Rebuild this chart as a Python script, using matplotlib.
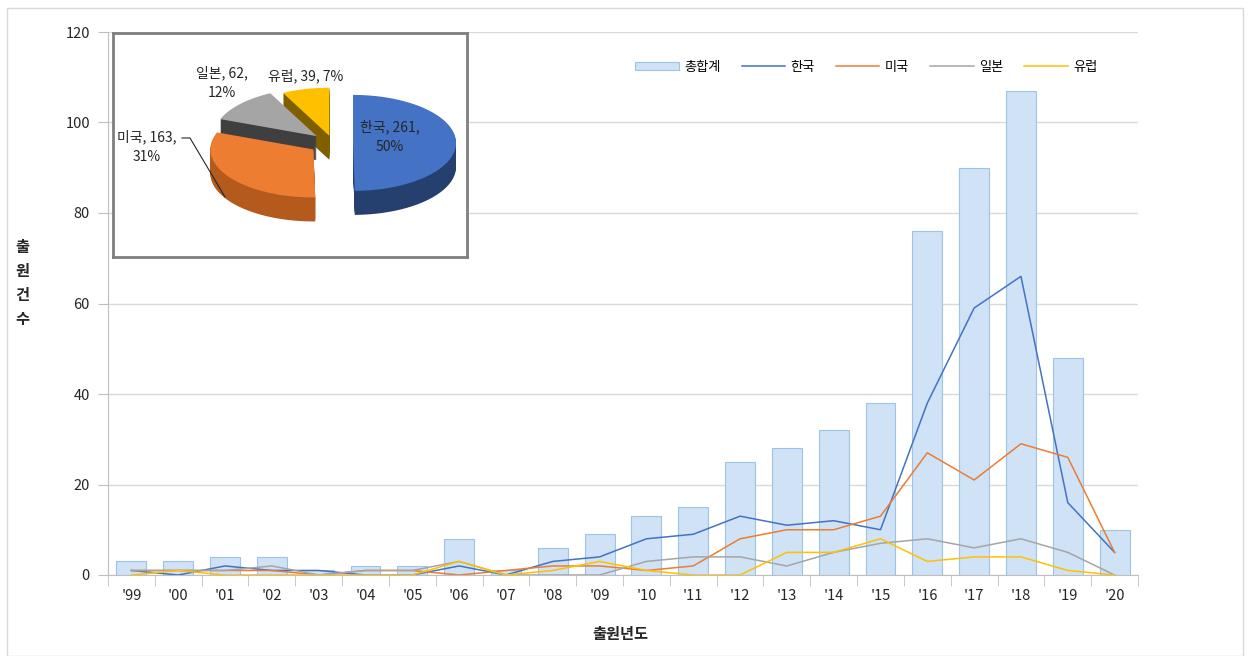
import numpy as np
import matplotlib
matplotlib.use("Agg")
import matplotlib.pyplot as plt
from matplotlib.patches import Polygon, Rectangle
from matplotlib.lines import Line2D

plt.rcParams["font.family"] = ["Noto Sans CJK KR", "DejaVu Sans"]

years = ["'99", "'00", "'01", "'02", "'03", "'04", "'05", "'06", "'07", "'08", "'09",
         "'10", "'11", "'12", "'13", "'14", "'15", "'16", "'17", "'18", "'19", "'20"]
total = [3, 3, 4, 4, 1, 2, 2, 8, 1, 6, 9, 13, 15, 25, 28, 32, 38, 76, 90, 107, 48, 10]
korea = [1, 0, 2, 1, 1, 0, 0, 2, 0, 3, 4, 8, 9, 13, 11, 12, 10, 38, 59, 66, 16, 5]
usa = [1, 1, 1, 1, 0, 1, 1, 0, 1, 2, 2, 1, 2, 8, 10, 10, 13, 27, 21, 29, 26, 5]
japan = [1, 1, 1, 2, 0, 1, 1, 3, 0, 0, 0, 3, 4, 4, 2, 5, 7, 8, 6, 8, 5, 0]
europe = [0, 1, 0, 0, 0, 0, 0, 3, 0, 1, 3, 1, 0, 0, 5, 5, 8, 3, 4, 4, 1, 0]

pie_names = ["한국", "미국", "일본", "유럽"]
pie_values = [261, 163, 62, 39]

C_KR, C_US, C_JP, C_EU = "#4472c4", "#ed7d31", "#a5a5a5", "#ffc000"
SIDE = ["#25406f", "#b35a1c", "#3f3f3f", "#7f6000"]

fig = plt.figure(figsize=(12.48, 6.56), dpi=100)
fig.patches.append(Rectangle((7 / 1248, 0), 1236 / 1248, 648 / 656, transform=fig.transFigure,
                             fill=False, edgecolor="#d9d9d9", linewidth=1))

ax = fig.add_axes([108 / 1248, 1 - 575 / 656, 1030 / 1248, 543 / 656])
x = np.arange(len(years))
bars = ax.bar(x, total, width=0.64, color="#cfe2f6", edgecolor="#9dc3e6", linewidth=0.8,
              label="총합계", zorder=2)
ax.plot(x, korea, color=C_KR, lw=1.1, label="한국", zorder=3)
ax.plot(x, usa, color=C_US, lw=1.1, label="미국", zorder=3)
ax.plot(x, japan, color=C_JP, lw=1.1, label="일본", zorder=3)
ax.plot(x, europe, color=C_EU, lw=1.1, label="유럽", zorder=3)

ax.set_xlim(-0.5, len(years) - 0.5)
ax.set_ylim(0, 120)
ax.set_yticks(range(0, 121, 20))
ax.set_xticks(x)
ax.set_xticklabels(years, fontsize=10.5, color="#262626")
ax.set_xticks(np.arange(-0.5, len(years), 1), minor=True)
ax.tick_params(axis="x", which="major", length=0, pad=10)
ax.tick_params(axis="x", which="minor", length=8, color="#bfbfbf", direction="out")
ax.tick_params(axis="y", length=7, color="#bfbfbf", labelsize=10.5, labelcolor="#262626", pad=6)
ax.grid(axis="y", color="#d9d9d9", lw=1, zorder=0)
for s in ["top", "right"]:
    ax.spines[s].set_visible(False)
for s in ["left", "bottom"]:
    ax.spines[s].set_color("#bfbfbf")

handles, labels = ax.get_legend_handles_labels()
order = [4, 0, 1, 2, 3]
ax.legend([handles[i] for i in order], [labels[i] for i in order],
          loc="center right", bbox_to_anchor=(0.972, 0.935), ncol=5, frameon=False,
          fontsize=9.5, handlelength=3.3, handleheight=0.6, columnspacing=1.6,
          handletextpad=0.4)

fig.text(22 / 1248, 1 - 283 / 656, "출\n원\n건\n수", ha="center", va="center",
         fontsize=11, fontweight="bold", linespacing=1.6, color="#262626")
fig.text(620 / 1248, 1 - 634 / 656, "출원년도", ha="center", va="center",
         fontsize=11, fontweight="bold", color="#262626")

# inset: exploded 3D-style pie of the country totals
pax = fig.add_axes([113 / 1248, 1 - 257 / 656, 354 / 1248, 224 / 656])
pax.set_xlim(113, 467)
pax.set_ylim(257, 33)
pax.set_xticks([])
pax.set_yticks([])
for s in pax.spines.values():
    s.set_color("#7f7f7f")
    s.set_linewidth(2)

cx, cy, rx, ry, depth = 333, 143, 103, 48, 24
explode = [20, 24, 22, 16]
total_pie = sum(pie_values)
angles = [90.0]
for v in pie_values:
    angles.append(angles[-1] - 360.0 * v / total_pie)


def wedge_xy(a0, a1, ox, oy):
    t = np.radians(np.linspace(a0, a1, 80))
    px = ox + rx * np.cos(t)
    py = oy - ry * np.sin(t)
    return np.column_stack([np.r_[ox, px], np.r_[oy, py]])


wedges = []
for i, v in enumerate(pie_values):
    a0, a1 = angles[i], angles[i + 1]
    mid = np.radians((a0 + a1) / 2)
    ox = cx + explode[i] * np.cos(mid)
    oy = cy - explode[i] * ry / rx * np.sin(mid)
    wedges.append((a0, a1, ox, oy))

for i in [3, 2, 1, 0]:
    a0, a1, ox, oy = wedges[i]
    top = wedge_xy(a0, a1, ox, oy)
    for d in range(depth, 0, -1):
        pax.add_patch(Polygon(top + [0, d], closed=True, facecolor=SIDE[i],
                              edgecolor="none"))
    pax.add_patch(Polygon(top, closed=True,
                          facecolor=[C_KR, C_US, C_JP, C_EU][i], edgecolor="none"))

pct = [round(100 * v / total_pie) for v in pie_values]
label_kw = dict(ha="center", va="center", fontsize=10, color="#262626", linespacing=1.5)
pax.text(390, 137, f"{pie_names[0]}, {pie_values[0]},\n{pct[0]}%", **label_kw)
pax.text(147, 147, f"{pie_names[1]}, {pie_values[1]},\n{pct[1]}%", **label_kw)
pax.text(222, 83, f"{pie_names[2]}, {pie_values[2]},\n{pct[2]}%", **label_kw)
pax.text(306, 76, f"{pie_names[3]}, {pie_values[3]}, {pct[3]}%", **label_kw)
pax.add_line(Line2D([182, 190, 225], [138, 138, 197], color="#262626", lw=0.8))

fig.savefig("out.png", dpi=100)
